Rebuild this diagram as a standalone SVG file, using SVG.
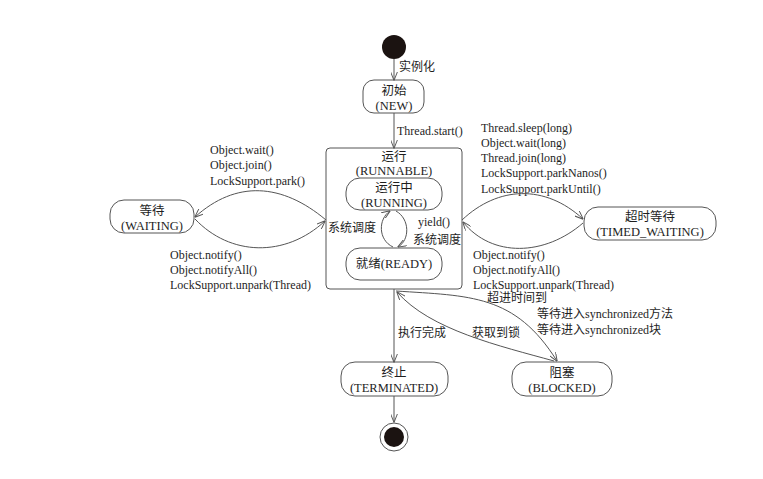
<svg xmlns="http://www.w3.org/2000/svg" width="763" height="479" viewBox="0 0 763 479">
  <defs>
    <marker id="arrow" viewBox="0 0 10 8" refX="9.5" refY="4" markerWidth="9" markerHeight="7" markerUnits="userSpaceOnUse" orient="auto">
      <path d="M0,0 L10,4 L0,8" fill="none" stroke="#555" stroke-width="1.1"/>
    </marker>
    <style>
      text { font-family: "Liberation Serif", "Noto Sans CJK SC", serif; font-size: 12px; fill: #1e1e1e; }
      .c { text-anchor: middle; }
      .n { font-size: 12.5px; }
      .state { fill: #fff; stroke: #555; stroke-width: 1; }
      .edge { fill: none; stroke: #555; stroke-width: 1; marker-end: url(#arrow); }
    </style>
  </defs>
  <rect width="763" height="479" fill="#fff"/>

  <!-- initial pseudo-state -->
  <g id="start">
    <circle cx="394" cy="47" r="12" fill="#1b1311"/>
    <text x="399" y="71">实例化</text>
  </g>

  <g id="new">
    <rect class="state" x="363" y="80" width="61" height="33" rx="11"/>
    <text class="c n" x="394" y="95">初始</text>
    <text class="c n" x="394" y="110">(NEW)</text>
    <text x="397" y="135">Thread.start()</text>
  </g>

  <g id="runnable">
    <rect class="state" x="326" y="148" width="136" height="141" rx="4"/>
    <text class="c n" x="394" y="161">运行</text>
    <text class="c n" x="394" y="175">(RUNNABLE)</text>
  </g>

  <g id="running">
    <rect class="state" x="346" y="178" width="96" height="32" rx="14"/>
    <text class="c n" x="394" y="192">运行中</text>
    <text class="c n" x="394" y="207">(RUNNING)</text>
  </g>

  <g id="ready">
    <rect class="state" x="346" y="248" width="96" height="32" rx="14"/>
    <text class="c n" x="394" y="268">就绪(READY)</text>
  </g>

  <g id="schedule-labels">
    <text x="328" y="232">系统调度</text>
    <text x="418" y="226">yield()</text>
    <text x="413" y="244">系统调度</text>
  </g>

  <g id="waiting">
    <rect class="state" x="110" y="200" width="84" height="33" rx="14"/>
    <text class="c n" x="152" y="215">等待</text>
    <text class="c n" x="152" y="230">(WAITING)</text>
    <text x="210" y="154">Object.wait()</text>
    <text x="210" y="169">Object.join()</text>
    <text x="210" y="185">LockSupport.park()</text>
    <text x="170" y="259">Object.notify()</text>
    <text x="170" y="274">Object.notifyAll()</text>
    <text x="170" y="289">LockSupport.unpark(Thread)</text>
  </g>

  <g id="timed-waiting">
    <rect class="state" x="584" y="207" width="132" height="33" rx="14"/>
    <text class="c n" x="650" y="221">超时等待</text>
    <text class="c n" x="650" y="236">(TIMED_WAITING)</text>
    <text x="481" y="132">Thread.sleep(long)</text>
    <text x="481" y="147">Object.wait(long)</text>
    <text x="481" y="162">Thread.join(long)</text>
    <text x="481" y="177">LockSupport.parkNanos()</text>
    <text x="481" y="193">LockSupport.parkUntil()</text>
    <text x="473" y="259">Object.notify()</text>
    <text x="473" y="274">Object.notifyAll()</text>
    <text x="473" y="289">LockSupport.unpark(Thread)</text>
    <text x="487" y="302">超进时间到</text>
  </g>

  <g id="blocked">
    <rect class="state" x="512" y="362" width="100" height="34" rx="14"/>
    <text class="c n" x="562" y="377">阻塞</text>
    <text class="c n" x="562" y="392">(BLOCKED)</text>
    <text x="537" y="318">等待进入synchronized方法</text>
    <text x="537" y="334">等待进入synchronized块</text>
    <text x="472" y="337">获取到锁</text>
  </g>

  <g id="terminated">
    <rect class="state" x="341" y="362" width="107" height="34" rx="14"/>
    <text class="c n" x="394" y="377">终止</text>
    <text class="c n" x="394" y="392">(TERMINATED)</text>
    <text x="398" y="337">执行完成</text>
  </g>

  <!-- final pseudo-state -->
  <g id="end">
    <circle cx="394" cy="437" r="14" fill="#fff" stroke="#555" stroke-width="1"/>
    <circle cx="394" cy="437" r="10" fill="#1b1311"/>
  </g>

  <!-- connectors, drawn above the state boxes -->
  <g id="connectors">
    <path class="edge" d="M394 59 L394 80"/>
    <path class="edge" d="M394 113 L394 148"/>
    <!-- RUNNING <-> READY -->
    <path class="edge" d="M393 247 C378 240, 378 219, 390 211"/>
    <path class="edge" d="M396 211 C410 219, 410 240, 398 247"/>
    <!-- RUNNABLE <-> WAITING -->
    <path class="edge" d="M326 220 C282 183, 236 180, 195 217"/>
    <path class="edge" d="M195 219 C230 256, 285 258, 325 221"/>
    <!-- RUNNABLE <-> TIMED_WAITING -->
    <path class="edge" d="M462 220 C498 186, 545 184, 583 219"/>
    <path class="edge" d="M583 223 C545 256, 492 258, 463 222"/>
    <!-- RUNNABLE <-> BLOCKED -->
    <path class="edge" d="M396 291 C470 296, 515 294, 557 361"/>
    <path class="edge" d="M554 361 C500 346, 430 330, 397 292"/>
    <!-- RUNNABLE -> TERMINATED -> end -->
    <path class="edge" d="M394 289 L394 362"/>
    <path class="edge" d="M394 396 L394 422"/>
  </g>
</svg>
